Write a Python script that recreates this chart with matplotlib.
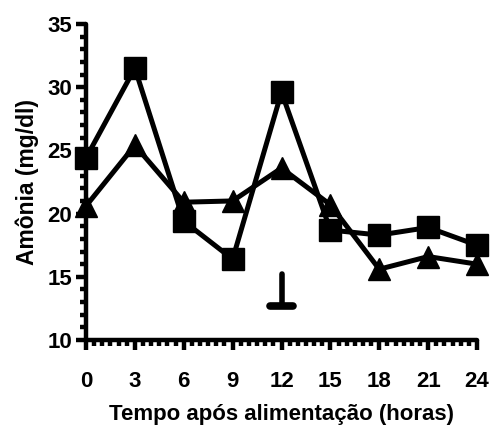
import matplotlib.pyplot as plt
from matplotlib.ticker import MultipleLocator

# data
horas = [0, 3, 6, 9, 12, 15, 18, 21, 24]
quadrado = [24.4, 31.5, 19.4, 16.4, 29.6, 18.7, 18.3, 18.9, 17.5]
triangulo = [20.6, 25.4, 20.9, 21.0, 23.6, 20.7, 15.6, 16.6, 16.0]
x_ticks = [0, 3, 6, 9, 12, 15, 18, 21, 24]
y_ticks = [10, 15, 20, 25, 30, 35]
# feeding marker at 12 h
marca_x = 12
marca_topo = 15.2
marca_base = 12.7

plt.rcParams['font.family'] = ['Liberation Sans', 'DejaVu Sans']
plt.rcParams['font.weight'] = 'bold'

fig = plt.figure(figsize=(4.9, 4.3), dpi=100)
ax = fig.add_axes([0.1755, 0.2093, 0.798, 0.735])

ax.plot(horas, quadrado, color='black', lw=3.6, marker='s', markersize=16,
        clip_on=False, zorder=3)
ax.plot(horas, triangulo, color='black', lw=3.6, marker='^', markersize=16,
        clip_on=False, zorder=3)

ax.plot([marca_x, marca_x], [marca_topo, marca_base], color='black', lw=4,
        solid_capstyle='round')
ax.plot([marca_x - 0.7, marca_x + 0.7], [marca_base, marca_base],
        color='black', lw=5.5, solid_capstyle='round')

ax.set_xlim(0, 24)
ax.set_ylim(10, 35)
ax.set_xticks(x_ticks)
ax.set_yticks(y_ticks)
ax.xaxis.set_minor_locator(MultipleLocator(0.5))
ax.yaxis.set_minor_locator(MultipleLocator(1))

for s in ['top', 'right']:
    ax.spines[s].set_visible(False)
for s in ['left', 'bottom']:
    ax.spines[s].set_linewidth(3.2)
    ax.spines[s].set_capstyle('round')

ax.tick_params(which='major', length=7, width=3.2, labelsize=16)
ax.tick_params(which='minor', length=4, width=3.2)
ax.tick_params(axis='x', which='major', pad=15)
ax.tick_params(axis='y', which='major', pad=3)

ax.set_xlabel('Tempo após alimentação (horas)', fontsize=16, fontweight='bold',
              labelpad=9)
ax.set_ylabel('Amônia (mg/dl)', fontsize=16.5, fontweight='bold', labelpad=6)

plt.savefig('out.png', dpi=100)
